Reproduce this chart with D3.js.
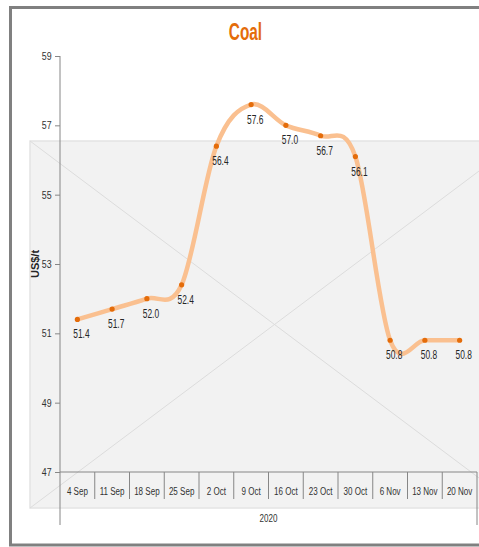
<!DOCTYPE html>
<html>
<head>
<meta charset="utf-8">
<script src="https://cdn.jsdelivr.net/npm/d3@7"></script>
<style>
  body { margin: 0; background: #fff; }
  svg { display: block; }
</style>
</head>
<body>
<div id="chart"></div>
<script>
// values
var weeks = ['4 Sep', '11 Sep', '18 Sep', '25 Sep', '2 Oct', '9 Oct', '16 Oct', '23 Oct', '30 Oct', '6 Nov', '13 Nov', '20 Nov'];
var prices = [51.4, 51.7, 52.0, 52.4, 56.4, 57.6, 57.0, 56.7, 56.1, 50.8, 50.8, 50.8];
var yTicks = [47, 49, 51, 53, 55, 57, 59];
var yearLabel = '2020';

var width = 479, height = 547;
var margin = {top: 56, left: 60};
var font = "'Liberation Sans', Arial, sans-serif";
// the reference uses a narrow face, so text is squeezed horizontally
var squeeze = 0.7;

let svg = d3.select('#chart').append('svg')
    .attr('width', width)
    .attr('height', height);

function label(x, y, txt, size, opts) {
    opts = opts || {};
    return svg.append('text')
        .attr('transform', `translate(${x},${y}) scale(${opts.sx || squeeze},1)`)
        .attr('text-anchor', opts.anchor || 'middle')
        .style('font-family', font)
        .style('font-size', size + 'px')
        .style('font-weight', opts.bold ? 'bold' : 'normal')
        .attr('fill', opts.color || '#333')
        .text(txt);
}

// outer frame (right edge runs off the picture)
svg.append('rect')
    .attr('x', 10.5)
    .attr('y', 7.5)
    .attr('width', 520)
    .attr('height', 537.5)
    .attr('fill', '#fff')
    .attr('stroke', '#808080')
    .attr('stroke-width', 3);

// grey placeholder panel with the crossed diagonals behind the plot
let panel = {x: 30, y: 141, w: 489, h: 367};
svg.append('rect')
    .attr('x', panel.x)
    .attr('y', panel.y)
    .attr('width', panel.w)
    .attr('height', panel.h)
    .attr('fill', '#f2f2f2')
    .attr('stroke', '#e4e4e4')
    .attr('stroke-width', 1.5);
svg.append('line')
    .attr('x1', panel.x).attr('y1', panel.y)
    .attr('x2', panel.x + panel.w).attr('y2', panel.y + panel.h)
    .attr('stroke', '#dcdcdc');
svg.append('line')
    .attr('x1', panel.x).attr('y1', panel.y + panel.h)
    .attr('x2', panel.x + panel.w).attr('y2', panel.y)
    .attr('stroke', '#dcdcdc');

let plotRight = 477;
let plotBottom = 472;

let x = d3.scaleBand()
    .domain(weeks)
    .range([margin.left, plotRight]);

let y = d3.scaleLinear()
    .domain([47, 59])
    .range([plotBottom, margin.top]);

let cx = (d, i) => x(weeks[i]) + x.bandwidth() / 2;

// title
label(245.5, 40, 'Coal', 24, {bold: true, sx: 0.64, color: '#e46c0a'});

// y axis
let yAxis = svg.append('g')
    .attr('transform', `translate(${margin.left},0)`)
    .call(d3.axisLeft(y).tickValues(yTicks).tickSize(5).tickPadding(4).tickFormat(d3.format('d')));
yAxis.select('.domain').remove();
yAxis.selectAll('.tick line').attr('stroke', '#868686');
yAxis.selectAll('.tick text')
    .attr('x', -10.5)
    .attr('transform', 'scale(0.8,1)')
    .style('font-family', font)
    .style('font-size', '11px')
    .attr('fill', '#333');

svg.append('line')
    .attr('x1', margin.left).attr('x2', margin.left)
    .attr('y1', y(59)).attr('y2', 525)
    .attr('stroke', '#868686');

svg.append('text')
    .attr('transform', `translate(39,${(y(47) + y(59)) / 2}) rotate(-90)`)
    .attr('text-anchor', 'middle')
    .style('font-family', font)
    .style('font-weight', 'bold')
    .style('font-size', '11px')
    .attr('fill', '#262626')
    .text('US$/t');

// x axis: baseline, category separators and labels
svg.append('line')
    .attr('x1', margin.left).attr('x2', plotRight)
    .attr('y1', plotBottom).attr('y2', plotBottom)
    .attr('stroke', '#868686');

svg.selectAll('.sep')
    .data(weeks.slice(1))
    .enter().append('line')
    .attr('class', 'sep')
    .attr('x1', d => x(d)).attr('x2', d => x(d))
    .attr('y1', plotBottom).attr('y2', 499)
    .attr('stroke', '#868686');

svg.append('line')
    .attr('x1', plotRight).attr('x2', plotRight)
    .attr('y1', plotBottom).attr('y2', 525)
    .attr('stroke', '#868686');

weeks.forEach(function(w) {
    label(x(w) + x.bandwidth() / 2, 495, w, 11.5);
});

label((margin.left + plotRight) / 2, 522, yearLabel, 11.5);

// smoothed line
let line = d3.line()
    .x(cx)
    .y(d => y(d))
    .curve(d3.curveCardinal.tension(0));

svg.append('path')
    .datum(prices)
    .attr('d', line)
    .attr('fill', 'none')
    .attr('stroke', '#fac090')
    .attr('stroke-width', 4.5)
    .attr('stroke-linecap', 'round');

svg.selectAll('.dot')
    .data(prices)
    .enter().append('circle')
    .attr('class', 'dot')
    .attr('cx', cx)
    .attr('cy', d => y(d))
    .attr('r', 2.6)
    .attr('fill', '#e46c0a');

prices.forEach(function(p, i) {
    label(cx(p, i) + 4, y(p) + 19, d3.format('.1f')(p), 12, {color: '#262626'});
});
</script>
</body>
</html>
